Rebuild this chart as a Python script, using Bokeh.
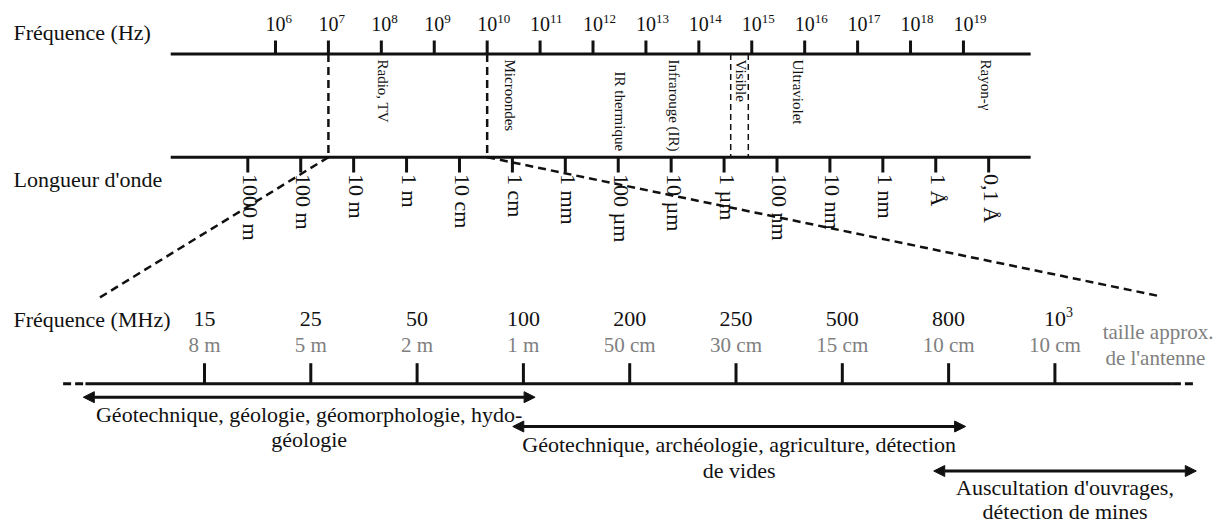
import numpy as np
from bokeh.plotting import figure
from bokeh.models import Range1d, ColumnDataSource, Arrow, NormalHead
from bokeh.core.properties import value
from bokeh.embed import file_html
from bokeh.resources import INLINE

# ---------------- data ----------------
# electromagnetic spectrum (top diagram)
freq_exponents = list(range(6, 20))                      # 10^6 ... 10^19 Hz
spectrum_axis_log_hz = [4.02, 20.27]                     # extent of the two spectrum lines
wavelength_labels = ["1000 m", "100 m", "10 m", "1 m", "10 cm", "1 cm", "1 mm",
                     "100 µm", "10 µm", "1 µm", "100 nm", "10 nm", "1 nm", "1 Å", "0,1 Å"]
wavelength_m = [1e3, 1e2, 1e1, 1.0, 1e-1, 1e-2, 1e-3, 1e-4, 1e-5, 1e-6,
                1e-7, 1e-8, 1e-9, 1e-10, 1e-11]
band_names = ["Radio, TV", "Microondes", "IR thermique", "Infrarouge (IR)",
              "Visible", "Ultraviolet", "Rayon-γ"]
band_log_hz = [8.0, 10.4, 12.47, 13.5, 14.75, 15.84, 19.39]
visible_hz = [4.0e14, 8.6e14]
zoom_hz = [1e7, 1e10]                                    # region expanded below

# GPR frequencies (bottom diagram, evenly spaced categories)
mhz_labels = ["15", "25", "50", "100", "200", "250", "500", "800", "10"]
mhz_exponents = ["", "", "", "", "", "", "", "", "3"]
antenna_sizes = ["8 m", "5 m", "2 m", "1 m", "50 cm", "30 cm", "15 cm", "10 cm", "10 cm"]
zoom_targets = [-1, 9]                                   # category positions reached by the zoom lines
gpr_axis = [-1.12, 9.11]
gpr_axis_dashed = [-1.33, 9.33]
app_line1 = ["Géotechnique, géologie, géomorphologie, hydo-",
             "Géotechnique, archéologie, agriculture, détection",
             "Auscultation d'ouvrages,"]
app_line2 = ["géologie", "de vides", "détection de mines"]
app_start = [-1.14, 2.90, 6.86]
app_end = [3.11, 7.16, 9.33]

# ---------------- layout ----------------
FONT = value("Liberation Serif")
L0, L1 = 0.8035, 23.782         # log10(Hz) range of the frame
I0, I1 = -1.919, 9.520          # category range of the frame
LEFT_PAD = 13
DY = -8                          # baseline correction for horizontal texts
Y_TITLE_HZ, Y_HZ_BASE, Y_HZ_EXP = 40 + DY, 31 + DY, 26 + DY
Y_TOP, Y_TOP_TICK = 53.5, 40
Y_BOT, Y_WL_TICK, Y_WL_TEXT = 156.7, 172, 173.5
Y_TITLE_WL = 187 + DY
Y_CONN = [298, 296]
Y_MHZ, Y_MHZ_EXP, Y_ANT = 326.5 + DY, 319.5 + DY, 352.5 + DY
Y_GPR, Y_GPR_TICK = 383.3, 362.7
Y_ARROWS = [396.7, 426, 470.5]
Y_APP1 = [421.7 + DY, 451.7 + DY, 494.5 + DY]
Y_APP2 = [446.7 + DY, 477.7 + DY, 518.5 + DY]
Y_ANT_TITLE = [339 + DY, 365 + DY]
band_top = [59, 59, 71, 59, 59, 59, 59]
GRAY = "#808080"
INK = "#111111"
BIG = "22px"

p = figure(width=1216, height=526, x_range=Range1d(L0, L1), y_range=Range1d(526, 0),
           output_backend="svg", toolbar_location=None, min_border=0)
p.extra_x_ranges = {"mhz": Range1d(I0, I1)}
p.xaxis.visible = False
p.yaxis.visible = False
p.grid.visible = False
p.outline_line_color = None
p.background_fill_color = "white"


def mhz_to_log_hz(i):
    r = p.x_range
    e = p.extra_x_ranges["mhz"]
    return r.start + (i - e.start) * (r.end - r.start) / (e.end - e.start)


# ---- top: spectrum lines ----
p.segment(x0=[spectrum_axis_log_hz[0]] * 2, x1=[spectrum_axis_log_hz[1]] * 2,
          y0=[Y_TOP, Y_BOT], y1=[Y_TOP, Y_BOT], line_width=3, line_color=INK)
p.segment(x0=freq_exponents, x1=freq_exponents, y0=[Y_TOP_TICK] * len(freq_exponents),
          y1=[Y_TOP] * len(freq_exponents), line_width=3, line_color=INK)
p.text(x=freq_exponents, y=[Y_HZ_BASE] * len(freq_exponents), text=["10"] * len(freq_exponents),
       text_font=FONT, text_font_size="20px", text_align="center",
       text_baseline="alphabetic", text_color=INK)
p.text(x=freq_exponents, y=[Y_HZ_EXP] * len(freq_exponents), text=[str(e) for e in freq_exponents],
       x_offset=10, text_font=FONT, text_font_size="13px", text_align="left",
       text_baseline="alphabetic", text_color=INK)

wl_log_hz = [np.log10(2.998e8 / w) for w in wavelength_m]
p.segment(x0=wl_log_hz, x1=wl_log_hz, y0=[Y_BOT] * len(wl_log_hz), y1=[Y_WL_TICK] * len(wl_log_hz),
          line_width=3, line_color=INK)
p.text(x=wl_log_hz, y=[Y_WL_TEXT] * len(wl_log_hz), text=wavelength_labels, angle=-np.pi / 2,
       x_offset=3, text_font=FONT, text_font_size=BIG, text_align="left",
       text_baseline="middle", text_color=INK)

p.text(x=[L0, L0], y=[Y_TITLE_HZ, Y_TITLE_WL], text=["Fréquence (Hz)", "Longueur d'onde"],
       x_offset=LEFT_PAD, text_font=FONT, text_font_size=BIG, text_align="left",
       text_baseline="alphabetic", text_color=INK)

# band labels
p.text(x=band_log_hz, y=band_top, text=band_names, angle=-np.pi / 2, x_offset=2, text_font=FONT,
       text_font_size="15px", text_align="left", text_baseline="middle", text_color=INK)

# visible band and zoom region
vis = [np.log10(v) for v in visible_hz]
p.segment(x0=vis, x1=vis, y0=[Y_TOP] * 2, y1=[Y_BOT] * 2, line_width=1.5,
          line_dash="6 4", line_color=INK)
zl = [np.log10(v) for v in zoom_hz]
p.segment(x0=zl, x1=zl, y0=[Y_TOP] * 2, y1=[Y_BOT] * 2, line_width=2.5,
          line_dash="8 5", line_color=INK)
p.segment(x0=zl, y0=[Y_BOT] * 2, x1=[mhz_to_log_hz(t) for t in zoom_targets], y1=Y_CONN,
          line_width=2.5, line_dash="8 5", line_color=INK)

# ---- bottom: GPR frequencies ----
n = len(mhz_labels)
idx = list(range(n))
p.segment(x0=[gpr_axis[0]], x1=[gpr_axis[1]], y0=[Y_GPR], y1=[Y_GPR], line_width=3,
          line_color=INK, x_range_name="mhz")
p.segment(x0=[gpr_axis_dashed[0], gpr_axis[1]], x1=[gpr_axis[0], gpr_axis_dashed[1]],
          y0=[Y_GPR] * 2, y1=[Y_GPR] * 2, line_width=3, line_dash="8 4", line_color=INK,
          x_range_name="mhz")
p.segment(x0=idx, x1=idx, y0=[Y_GPR_TICK] * n, y1=[Y_GPR] * n, line_width=3, line_color=INK,
          x_range_name="mhz")
p.text(x=idx, y=[Y_MHZ] * n, text=mhz_labels, text_font=FONT, text_font_size=BIG,
       text_align="center", text_baseline="alphabetic", text_color=INK, x_range_name="mhz")
p.text(x=idx, y=[Y_MHZ_EXP] * n, text=mhz_exponents, x_offset=11, text_font=FONT,
       text_font_size="14px", text_align="left", text_baseline="alphabetic", text_color=INK,
       x_range_name="mhz")
p.text(x=idx, y=[Y_ANT] * n, text=antenna_sizes, text_font=FONT, text_font_size="21px",
       text_align="center", text_baseline="alphabetic", text_color=GRAY, x_range_name="mhz")
p.text(x=[n - 0.03, n - 0.03], y=Y_ANT_TITLE, text=["taille approx.", "de  l'antenne"],
       text_font=FONT, text_font_size="21px", text_align="center", text_baseline="alphabetic",
       text_color=GRAY, x_range_name="mhz")
p.text(x=[I0], y=[Y_MHZ], text=["Fréquence (MHz)"], x_offset=LEFT_PAD, text_font=FONT,
       text_font_size=BIG, text_align="left", text_baseline="alphabetic", text_color=INK,
       x_range_name="mhz")

# application ranges
src = ColumnDataSource(dict(x0=app_start, x1=app_end, y=Y_ARROWS))
p.add_layout(Arrow(x_start="x0", y_start="y", x_end="x1", y_end="y", source=src,
                   x_range_name="mhz", line_width=3, line_color=INK,
                   start=NormalHead(size=11, fill_color=INK, line_color=INK, line_width=1),
                   end=NormalHead(size=11, fill_color=INK, line_color=INK, line_width=1)))
mid = [(a + b) / 2 for a, b in zip(app_start, app_end)]
p.text(x=mid, y=Y_APP1, text=app_line1, text_font=FONT, text_font_size=BIG,
       text_align="center", text_baseline="alphabetic", text_color=INK, x_range_name="mhz")
p.text(x=mid, y=Y_APP2, text=app_line2, text_font=FONT, text_font_size=BIG,
       text_align="center", text_baseline="alphabetic", text_color=INK, x_range_name="mhz")

open("out.html", "w").write(file_html(p, INLINE))
